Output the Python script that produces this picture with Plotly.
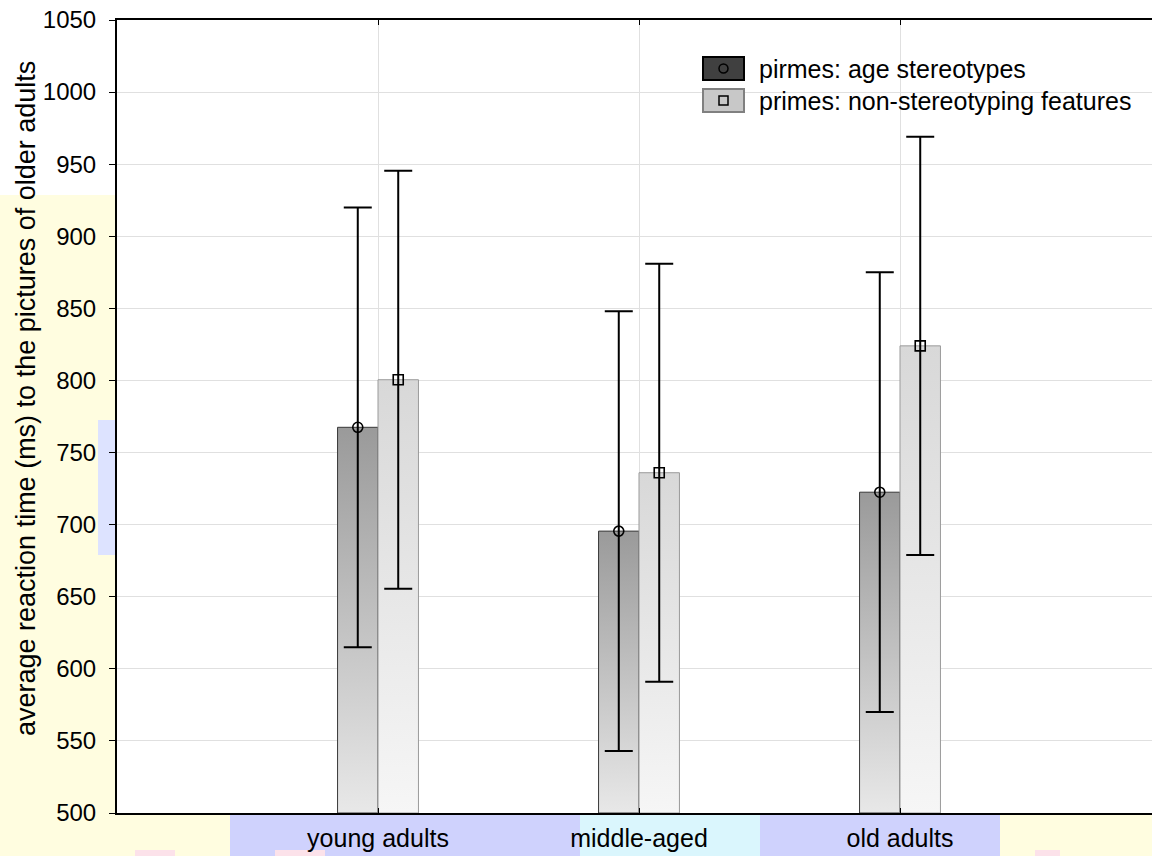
import plotly.graph_objects as go

# ---------------- data ----------------
categories = ["young adults", "middle-aged", "old adults"]
stereo_mean = [767.5, 695.5, 722.5]
stereo_err = [152.5, 152.5, 152.5]
nonstereo_mean = [800.5, 736.0, 824.0]
nonstereo_err = [145.0, 145.0, 145.0]
legend_labels = ["pirmes: age stereotypes", "primes: non-stereotyping features"]
y_title = "average reaction time (ms) to the pictures of older adults"
y_ticks = list(range(500, 1051, 50))

# ---------------- layout geometry (pixels) ----------------
W, H = 1152, 856
L, R, T, B = 117, 0, 20, 43
PW, PH = W - L - R, H - T - B
BASE = 500
BAR_W = 0.155
FONT = "Liberation Sans, Arial, sans-serif"


def px(x):
    return (x - L) / PW


def py(y):
    return (H - B - y) / PH


fig = go.Figure()
positions = [i + 1 for i in range(len(categories))]

# gradient bars drawn as filled polygons on the numeric axis
for pos, v in zip(positions, stereo_mean):
    x0, x1 = pos - BAR_W, pos
    fig.add_trace(go.Scatter(
        x=[x0, x1, x1, x0, x0], y=[BASE, BASE, v, v, BASE],
        mode="lines", fill="toself",
        line=dict(color="#383838", width=1),
        fillgradient=dict(type="vertical",
                          colorscale=[[0, "#e8e8e8"], [1, "#9a9a9a"]]),
        showlegend=False, hoverinfo="skip"))
for pos, v in zip(positions, nonstereo_mean):
    x0, x1 = pos, pos + BAR_W
    fig.add_trace(go.Scatter(
        x=[x0, x1, x1, x0, x0], y=[BASE, BASE, v, v, BASE],
        mode="lines", fill="toself",
        line=dict(color="#9a9a9a", width=1),
        fillgradient=dict(type="vertical",
                          colorscale=[[0, "#f6f6f6"], [1, "#d8d8d8"]]),
        showlegend=False, hoverinfo="skip"))

# means with error bars
fig.add_trace(go.Scatter(
    x=[p - BAR_W / 2 for p in positions], y=stereo_mean, mode="markers",
    marker=dict(symbol="circle-open", size=10, color="black", line=dict(width=1.6)),
    error_y=dict(type="data", array=stereo_err, color="black", thickness=2, width=14),
    showlegend=False, name=legend_labels[0]))
fig.add_trace(go.Scatter(
    x=[p + BAR_W / 2 for p in positions], y=nonstereo_mean, mode="markers",
    marker=dict(symbol="square-open", size=10, color="black", line=dict(width=1.6)),
    error_y=dict(type="data", array=nonstereo_err, color="black", thickness=2, width=14),
    showlegend=False, name=legend_labels[1]))

shapes = []
# background decoration outside the plot area
shapes.append(dict(type="rect", xref="paper", yref="paper", layer="below",
                   x0=px(0), x1=px(L), y0=py(195), y1=py(0),
                   fillcolor="white", line=dict(width=0)))
shapes.append(dict(type="rect", xref="paper", yref="paper", layer="below",
                   x0=px(0), x1=px(W), y0=py(T), y1=py(0),
                   fillcolor="white", line=dict(width=0)))
shapes.append(dict(type="rect", xref="paper", yref="paper", layer="below",
                   x0=px(98), x1=px(L), y0=py(555), y1=py(420),
                   fillcolor="#dde3ff", line=dict(width=0)))
shapes.append(dict(type="rect", xref="paper", yref="paper", layer="below",
                   x0=px(230), x1=px(1000), y0=py(H), y1=py(H - B),
                   fillcolor="#cfd2fd", line=dict(width=0)))
shapes.append(dict(type="rect", xref="paper", yref="paper", layer="below",
                   x0=px(580), x1=px(760), y0=py(H), y1=py(H - B),
                   fillcolor="#daf6fd", line=dict(width=0)))
for a, b2 in [(135, 175), (275, 325), (1035, 1060)]:
    shapes.append(dict(type="rect", xref="paper", yref="paper", layer="below",
                       x0=px(a), x1=px(b2), y0=py(H), y1=py(H - 6),
                       fillcolor="#fce2ea", line=dict(width=0)))

# manual legend
shapes.append(dict(type="rect", xref="paper", yref="paper",
                   x0=px(703), x1=px(744), y0=py(80), y1=py(57),
                   fillcolor="#404040", line=dict(color="black", width=2)))
shapes.append(dict(type="rect", xref="paper", yref="paper",
                   x0=px(703), x1=px(744), y0=py(112), y1=py(89),
                   fillcolor="#c8c8c8", line=dict(color="#808080", width=2)))
shapes.append(dict(type="circle", xref="paper", yref="paper",
                   x0=px(719), x1=px(728), y0=py(73), y1=py(64),
                   line=dict(color="black", width=1.5)))
shapes.append(dict(type="rect", xref="paper", yref="paper",
                   x0=px(719), x1=px(728), y0=py(105), y1=py(96),
                   line=dict(color="black", width=1.5)))

annotations = [
    dict(text=legend_labels[0], xref="paper", yref="paper", x=px(757), y=py(69),
         xanchor="left", yanchor="middle", showarrow=False,
         font=dict(family=FONT, size=25, color="black")),
    dict(text=legend_labels[1], xref="paper", yref="paper", x=px(757), y=py(101),
         xanchor="left", yanchor="middle", showarrow=False,
         font=dict(family=FONT, size=25, color="black")),
    dict(text=y_title, xref="paper", yref="paper", x=px(26), y=py(399),
         xanchor="center", yanchor="middle", textangle=-90, showarrow=False,
         font=dict(family=FONT, size=27, color="black")),
]

fig.update_layout(
    width=W, height=H,
    margin=dict(l=L, r=R, t=T, b=B, pad=0, autoexpand=False),
    paper_bgcolor="#fffde0",
    plot_bgcolor="white",
    font=dict(family=FONT, size=24, color="black"),
    shapes=shapes, annotations=annotations,
    showlegend=False,
    xaxis=dict(range=[0, PW / 261.0], tickmode="array", tickvals=positions,
               ticktext=categories, showgrid=True, gridcolor="#e0e0e0", gridwidth=1,
               zeroline=False, showline=True, linecolor="black", linewidth=2,
               mirror="ticks", ticks="inside", ticklen=5, tickcolor="black",
               automargin=False, ticklabelstandoff=2,
               tickfont=dict(family=FONT, size=25, color="black")),
    yaxis=dict(range=[500, 1050], tickmode="array", tickvals=y_ticks,
               showgrid=True, gridcolor="#e0e0e0", gridwidth=1,
               zeroline=False, showline=True, linecolor="black", linewidth=2,
               ticks="outside", ticklen=6, tickcolor="black", ticklabelstandoff=8,
               automargin=False,
               tickfont=dict(family=FONT, size=24, color="black")),
)

fig.write_html(
    "out.html",
    config={"displayModeBar": False},
    post_script="document.body.style.margin='0';document.body.style.overflow='hidden';",
)
